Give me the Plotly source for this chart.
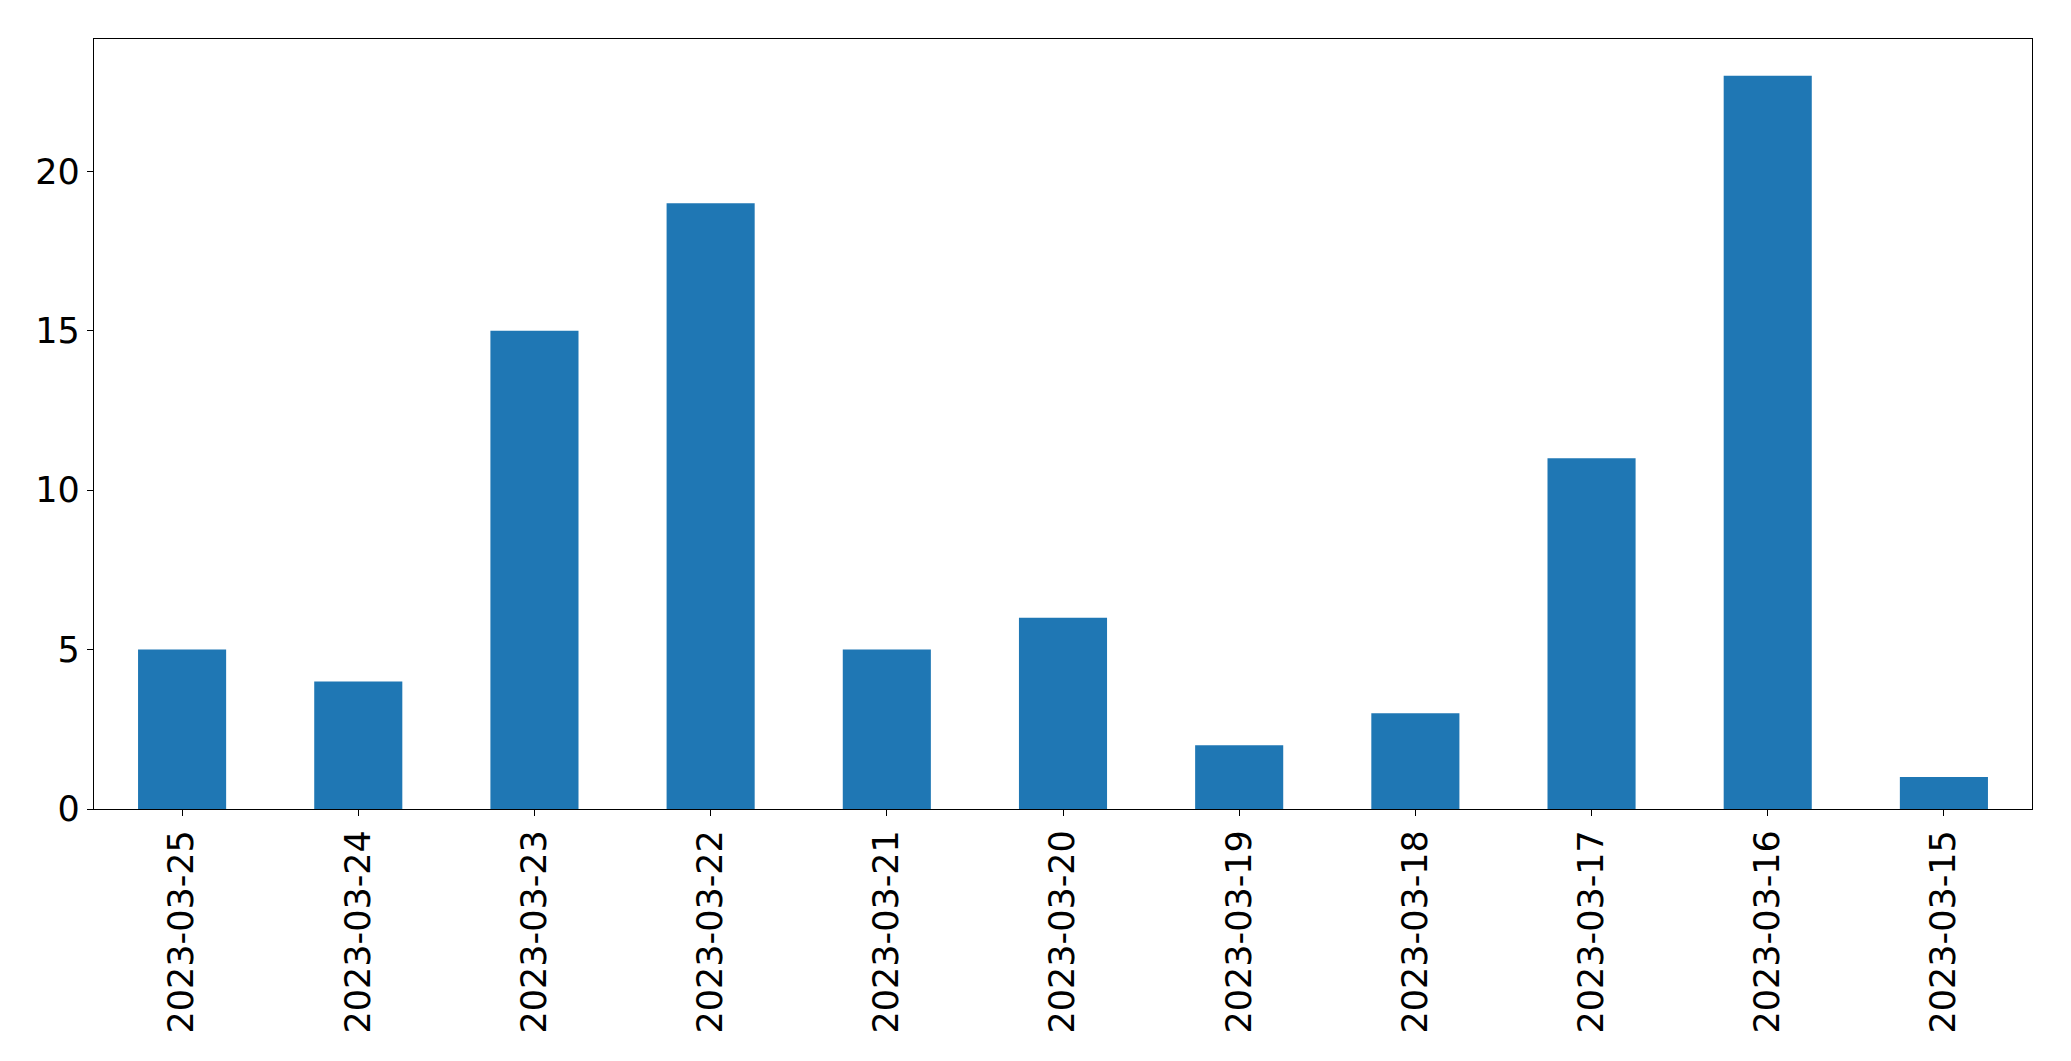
import plotly.graph_objects as go

dates = ["2023-03-25", "2023-03-24", "2023-03-23", "2023-03-22", "2023-03-21",
         "2023-03-20", "2023-03-19", "2023-03-18", "2023-03-17", "2023-03-16",
         "2023-03-15"]
counts = [5, 4, 15, 19, 5, 6, 2, 3, 11, 23, 1]
ytick_vals = [0, 5, 10, 15, 20]

fig = go.Figure()
fig.add_trace(go.Bar(
    x=dates, y=counts, width=0.5,
    marker=dict(color="#1f77b4", line=dict(width=0)),
))

font = dict(family="DejaVu Sans", size=35, color="black")
fig.update_layout(
    width=2055, height=1045, autosize=False,
    margin=dict(l=86, r=31, t=31, b=244, pad=0),
    plot_bgcolor="white", paper_bgcolor="white",
    showlegend=False, bargap=0.5,
    font=font,
)
fig.update_xaxes(
    type="category", range=[-0.5, len(dates) - 0.5],
    tickangle=-90, ticks="outside", ticklen=6, tickwidth=1.3, tickcolor="black",
    showline=True, linecolor="black", linewidth=1.3, mirror=True,
    showgrid=False, zeroline=False, tickfont=font,
)
fig.update_yaxes(
    range=[0, max(counts) * 1.05], tickvals=ytick_vals,
    ticks="outside", ticklen=6, tickwidth=1.3, tickcolor="black",
    showline=True, linecolor="black", linewidth=1.3, mirror=True,
    showgrid=False, zeroline=False, tickfont=font,
)
fig.write_html("out.html")
